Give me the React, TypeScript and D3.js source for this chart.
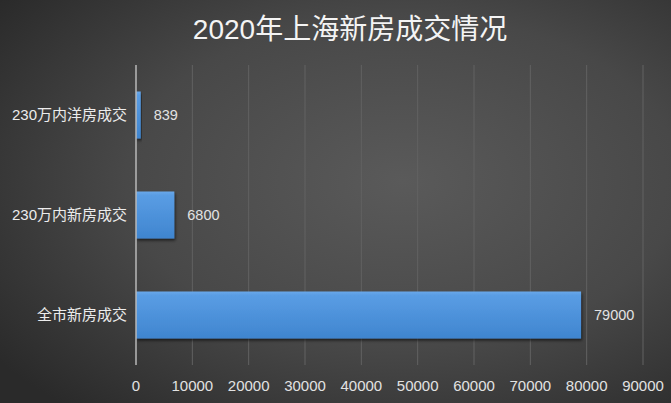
import React from "react";
import * as d3 from "d3";

const categories = ["230万内洋房成交", "230万内新房成交", "全市新房成交"];
const values = [839, 6800, 79000];
const xTicks = [0, 10000, 20000, 30000, 40000, 50000, 60000, 70000, 80000, 90000];
const title = "2020年上海新房成交情况";

const W = 671;
const H = 403;
const left = 136;
const right = 643;
const top = 65;
const bottom = 365;

export default function App() {
  const x = d3.scaleLinear().domain([0, 90000]).range([left, right]);
  const y = d3.scaleBand().domain(categories).range([top, bottom]).paddingInner(0.53).paddingOuter(0.265);
  const font = "'Liberation Sans', 'Noto Sans CJK SC', sans-serif";
  return (
    <svg width={W} height={H} style={{ position: "absolute", left: 0, top: 0 }}>
      <defs>
        <radialGradient id="bg" cx="0.6" cy="0.45" r="0.75">
          <stop offset="0" stopColor="#5a5a5a" />
          <stop offset="0.55" stopColor="#484848" />
          <stop offset="1" stopColor="#2a2a2a" />
        </radialGradient>
        <linearGradient id="bar" x1="0" y1="0" x2="0" y2="1">
          <stop offset="0" stopColor="#6aa8ea" />
          <stop offset="0.08" stopColor="#5a9de4" />
          <stop offset="1" stopColor="#3f85cf" />
        </linearGradient>
        <filter id="sh" x="-10%" y="-20%" width="130%" height="160%">
          <feDropShadow dx="1" dy="2" stdDeviation="1.5" floodColor="#000" floodOpacity="0.6" />
        </filter>
      </defs>
      <rect x={0} y={0} width={W} height={H} fill="url(#bg)" />
      <text x={350} y={39} textAnchor="middle" fill="#f4f4f4" fontSize={28} fontFamily={font}>
        {title}
      </text>
      {xTicks.slice(1).map((t) => (
        <line key={t} x1={x(t)} x2={x(t)} y1={top} y2={bottom} stroke="#626262" strokeWidth={1} />
      ))}
      {categories.map((c, i) => (
        <g key={c}>
          <rect
            x={x(0)}
            y={y(c)!}
            width={x(values[i]) - x(0)}
            height={y.bandwidth()}
            fill="url(#bar)"
            filter="url(#sh)"
          />
          <text
            x={x(values[i]) + 13}
            y={y(c)! + y.bandwidth() / 2 + 5}
            fill="#e2e2e2"
            fontSize={14.5}
            fontFamily={font}
          >
            {values[i]}
          </text>
          <text
            x={127}
            y={y(c)! + y.bandwidth() / 2 + 5}
            textAnchor="end"
            fill="#ececec"
            fontSize={15}
            fontFamily={font}
          >
            {c}
          </text>
        </g>
      ))}
      <line x1={x(0)} x2={x(0)} y1={top} y2={bottom} stroke="#b8b8b8" strokeWidth={1.5} />
      {xTicks.map((t) => (
        <text key={t} x={x(t)} y={391} textAnchor="middle" fill="#e2e2e2" fontSize={15} fontFamily={font}>
          {t}
        </text>
      ))}
    </svg>
  );
}
